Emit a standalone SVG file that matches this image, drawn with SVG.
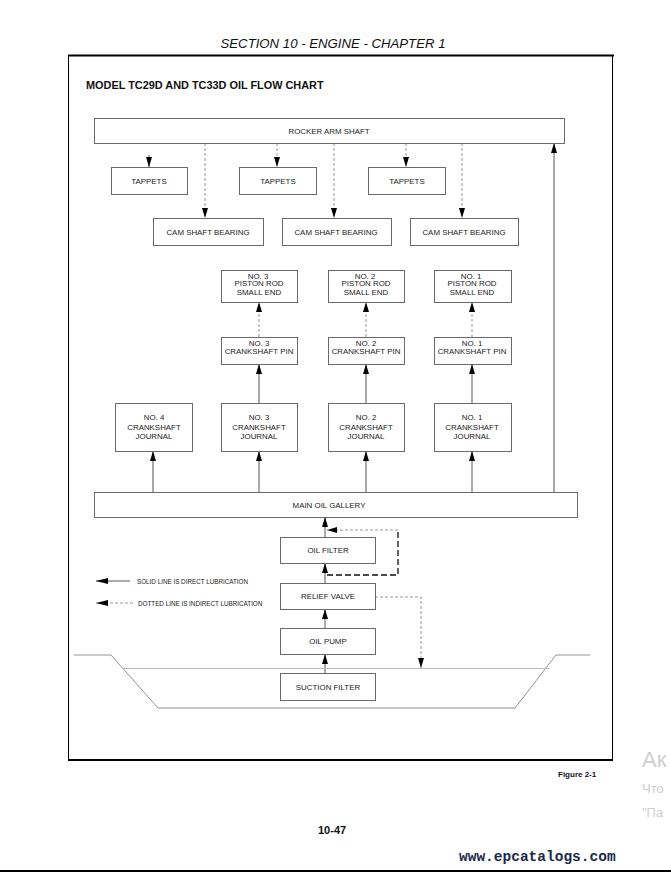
<svg xmlns="http://www.w3.org/2000/svg" width="671" height="873" viewBox="0 0 671 873">
<defs>
<marker id="ah" viewBox="0 0 10 6" refX="10" refY="3" markerWidth="10" markerHeight="6" markerUnits="userSpaceOnUse" orient="auto">
<path d="M0,0 L10,3 L0,6 z" fill="#000"/>
</marker>
<marker id="ahl" viewBox="0 0 12 6" refX="12" refY="3" markerWidth="12" markerHeight="6" markerUnits="userSpaceOnUse" orient="auto">
<path d="M0,0 L12,3 L0,6 z" fill="#000"/>
</marker>
</defs>
<style>
.box{fill:#fff;stroke:#6a6a6a;stroke-width:1}
.t{font-family:"Liberation Sans",Arial,sans-serif;font-size:7.9px;fill:#222;text-anchor:middle}
.sol{stroke:#555;stroke-width:1;fill:none;marker-end:url(#ah)}
.dash{stroke:#999;stroke-width:1;stroke-dasharray:3,2;fill:none;marker-end:url(#ah)}
.bdash{stroke:#111;stroke-width:1.3;stroke-dasharray:6,3;fill:none}
.sump{stroke:#777;stroke-width:0.8;fill:none}
</style>
<rect width="671" height="873" fill="#fff"/>
<text x="333" y="48" font-family="Liberation Sans,Arial,sans-serif" font-style="italic" font-size="13.2" text-anchor="middle" fill="#111">SECTION 10 - ENGINE - CHAPTER 1</text>
<line x1="68" y1="55.5" x2="614" y2="55.5" stroke="#000" stroke-width="2"/>
<line x1="68.5" y1="56" x2="68.5" y2="760" stroke="#000" stroke-width="1"/>
<line x1="612.5" y1="56" x2="612.5" y2="760" stroke="#000" stroke-width="1"/>
<line x1="68" y1="760" x2="613" y2="760" stroke="#000" stroke-width="2"/>
<text x="86" y="89" font-family="Liberation Sans,Arial,sans-serif" font-weight="bold" font-size="10.9" fill="#111">MODEL TC29D AND TC33D OIL FLOW CHART</text>

<g id="connectors">
<line class="sol" x1="149" y1="155" x2="149" y2="167"/>
<line class="dash" x1="277" y1="143" x2="277" y2="167"/>
<line class="dash" x1="406" y1="143" x2="406" y2="167"/>
<line class="dash" x1="205" y1="143" x2="205" y2="218"/>
<line class="dash" x1="334" y1="143" x2="334" y2="218"/>
<line class="dash" x1="462" y1="143" x2="462" y2="218"/>
<line class="sol" x1="554" y1="492" x2="554" y2="143"/>
<line class="dash" x1="259" y1="337" x2="259" y2="302"/>
<line class="dash" x1="366" y1="337" x2="366" y2="302"/>
<line class="dash" x1="472" y1="337" x2="472" y2="302"/>
<line class="sol" x1="259" y1="403" x2="259" y2="364"/>
<line class="sol" x1="366" y1="403" x2="366" y2="364"/>
<line class="sol" x1="472" y1="403" x2="472" y2="364"/>
<line class="sol" x1="153" y1="492" x2="153" y2="451"/>
<line class="sol" x1="259" y1="492" x2="259" y2="451"/>
<line class="sol" x1="366" y1="492" x2="366" y2="451"/>
<line class="sol" x1="472" y1="492" x2="472" y2="451"/>
<line class="sol" x1="325" y1="537" x2="325" y2="517"/>
<line class="sol" x1="325" y1="583" x2="325" y2="563"/>
<line class="sol" x1="325" y1="628" x2="325" y2="609"/>
<line class="sol" x1="325" y1="673" x2="325" y2="654"/>
<path class="bdash" d="M327,575 H398 V531"/>
<path d="M398,530 H327" stroke="#999" stroke-width="1" stroke-dasharray="3,2" fill="none" marker-end="url(#ah)"/>
<path class="dash" d="M375,597 H421 V668"/>
<line x1="130" y1="581" x2="96" y2="581" stroke="#555" stroke-width="1" marker-end="url(#ahl)"/>
<line x1="133" y1="603" x2="96" y2="603" stroke="#999" stroke-width="1" stroke-dasharray="3,2" marker-end="url(#ahl)"/>
</g>

<text x="137" y="583.5" font-family="Liberation Sans,Arial,sans-serif" font-size="6.3" fill="#222">SOLID LINE IS DIRECT LUBRICATION</text>
<text x="138" y="605.5" font-family="Liberation Sans,Arial,sans-serif" font-size="6.3" fill="#222">DOTTED LINE IS INDIRECT LUBRICATION</text>

<g id="sump">
<path class="sump" d="M74,655 H111 L158,708 H515 L556,655 H590"/>
<line x1="122" y1="668.5" x2="549" y2="668.5" stroke="#bbb" stroke-width="1.2"/>
</g>

<g id="rocker"><rect class="box" x="94.5" y="118.5" width="470" height="25"/><text class="t" x="329" y="133.5">ROCKER ARM SHAFT</text></g>
<g id="tappets1"><rect class="box" x="111.5" y="167.5" width="76" height="27"/><text class="t" x="149" y="183.5">TAPPETS</text></g>
<g id="tappets2"><rect class="box" x="239.5" y="167.5" width="77" height="27"/><text class="t" x="278" y="183.5">TAPPETS</text></g>
<g id="tappets3"><rect class="box" x="368.5" y="167.5" width="77" height="27"/><text class="t" x="407" y="183.5">TAPPETS</text></g>
<g id="cam1"><rect class="box" x="153.5" y="218.5" width="110" height="27"/><text class="t" x="208" y="234.5">CAM SHAFT BEARING</text></g>
<g id="cam2"><rect class="box" x="282.5" y="218.5" width="109" height="27"/><text class="t" x="336" y="234.5">CAM SHAFT BEARING</text></g>
<g id="cam3"><rect class="box" x="410.5" y="218.5" width="108" height="27"/><text class="t" x="464" y="234.5">CAM SHAFT BEARING</text></g>

<g id="piston3"><rect class="box" x="221.5" y="270.5" width="76" height="32"/><text class="t" x="258" y="278.5" fill="#3a2a6a">NO. 3</text><text class="t" x="259" y="286">PISTON ROD</text><text class="t" x="259" y="295">SMALL END</text></g>
<g id="piston2"><rect class="box" x="328.5" y="270.5" width="76" height="32"/><text class="t" x="365" y="278.5" fill="#4a1a4a">NO. 2</text><text class="t" x="366" y="286">PISTON ROD</text><text class="t" x="366" y="295">SMALL END</text></g>
<g id="piston1"><rect class="box" x="434.5" y="270.5" width="77" height="32"/><text class="t" x="471" y="278.5" fill="#1a4fa0">NO. 1</text><text class="t" x="472" y="286">PISTON ROD</text><text class="t" x="472" y="295">SMALL END</text></g>

<g id="pin3"><rect class="box" x="221.5" y="337.5" width="76" height="27"/><text class="t" x="259" y="346" fill="#3a2a10">NO. 3</text><text class="t" x="259" y="353.5">CRANKSHAFT PIN</text></g>
<g id="pin2"><rect class="box" x="328.5" y="337.5" width="76" height="27"/><text class="t" x="366" y="346" fill="#3a2a10">NO. 2</text><text class="t" x="366" y="353.5">CRANKSHAFT PIN</text></g>
<g id="pin1"><rect class="box" x="434.5" y="337.5" width="77" height="27"/><text class="t" x="472" y="346" fill="#1a4fa0">NO. 1</text><text class="t" x="472" y="353.5">CRANKSHAFT PIN</text></g>

<g id="journal4"><rect class="box" x="115.5" y="403.5" width="77" height="48"/><text class="t" x="154" y="420">NO. 4</text><text class="t" x="154" y="429.5">CRANKSHAFT</text><text class="t" x="154" y="439">JOURNAL</text></g>
<g id="journal3"><rect class="box" x="221.5" y="403.5" width="76" height="48"/><text class="t" x="259" y="420">NO. 3</text><text class="t" x="259" y="429.5">CRANKSHAFT</text><text class="t" x="259" y="439">JOURNAL</text></g>
<g id="journal2"><rect class="box" x="328.5" y="403.5" width="76" height="48"/><text class="t" x="366" y="420">NO. 2</text><text class="t" x="366" y="429.5">CRANKSHAFT</text><text class="t" x="366" y="439">JOURNAL</text></g>
<g id="journal1"><rect class="box" x="434.5" y="403.5" width="77" height="48"/><text class="t" x="472" y="420">NO. 1</text><text class="t" x="472" y="429.5">CRANKSHAFT</text><text class="t" x="472" y="439">JOURNAL</text></g>

<g id="gallery"><rect class="box" x="94.5" y="492.5" width="483" height="25"/><text class="t" x="329" y="507.5">MAIN OIL GALLERY</text></g>
<g id="oilfilter"><rect class="box" x="280.5" y="537.5" width="95" height="26"/><text class="t" x="328" y="553">OIL FILTER</text></g>
<g id="relief"><rect class="box" x="280.5" y="583.5" width="95" height="26"/><text class="t" x="328" y="599">RELIEF VALVE</text></g>
<g id="oilpump"><rect class="box" x="280.5" y="628.5" width="95" height="26"/><text class="t" x="328" y="644">OIL PUMP</text></g>
<g id="suction"><rect class="box" x="280.5" y="673.5" width="95" height="27"/><text class="t" x="328" y="689.5">SUCTION FILTER</text></g>

<text x="558" y="777" font-family="Liberation Sans,Arial,sans-serif" font-weight="bold" font-size="8" fill="#111">Figure 2-1</text>
<text x="318" y="834" font-family="Liberation Sans,Arial,sans-serif" font-weight="bold" font-size="11" fill="#111">10-47</text>
<text x="459" y="861" font-family="Liberation Mono,Courier New,monospace" font-weight="bold" font-size="14.5" fill="#1a2a4a">www.epcatalogs.com</text>
<line x1="0" y1="871" x2="671" y2="871" stroke="#000" stroke-width="2"/>

<text x="642" y="767" font-family="Liberation Sans,Arial,sans-serif" font-size="22" fill="#cfcfcf">Ак</text>
<text x="642" y="793" font-family="Liberation Sans,Arial,sans-serif" font-size="13" fill="#cfcfcf">Что</text>
<text x="642" y="817" font-family="Liberation Sans,Arial,sans-serif" font-size="13" fill="#cfcfcf">"Па</text>
</svg>
